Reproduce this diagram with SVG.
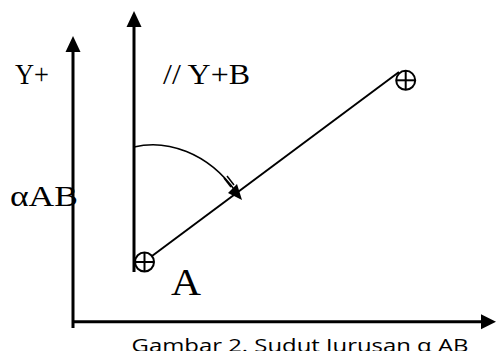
<svg xmlns="http://www.w3.org/2000/svg" width="496" height="351" viewBox="0 0 496 351">
<style>
.ax{stroke:#000;stroke-width:3;fill:none}
.ln{stroke:#000;stroke-width:2;fill:none}
.thin{stroke:#000;stroke-width:1.5;fill:none}
.serif{font-family:"Liberation Serif","Times New Roman",serif;fill:#000}
.sans{font-family:"Open Sans","Liberation Sans",sans-serif;fill:#000}
</style>
<rect width="496" height="351" fill="#fff"/>
<g id="connectors">
<line class="ax" x1="73" y1="48" x2="73" y2="328"/>
<polygon points="73,36 65.5,52 80.5,52"/>
<line class="ax" x1="73" y1="321.8" x2="484" y2="321.8"/>
<polygon points="496,321.8 481,314.3 481,329.3"/>
<line class="ax" x1="134" y1="24" x2="134" y2="272"/>
<polygon points="134,11 126.5,27 141.5,27"/>
<line class="ln" x1="152" y1="256" x2="399" y2="72"/>
<path class="thin" d="M134,147 C166,139 208,152 236,192"/>
<polygon points="242,200 228,193 237,184"/>
<line class="thin" x1="224" y1="178" x2="231" y2="187"/>
<line class="thin" x1="227" y1="176" x2="234" y2="185"/>
</g>
<g id="pointA">
<circle class="ln" cx="144.5" cy="262" r="9.5"/>
<line class="ln" x1="135" y1="262" x2="154" y2="262"/>
<line class="ln" x1="144.5" y1="252.5" x2="144.5" y2="271.5"/>
</g>
<g id="pointB">
<circle class="ln" cx="405.7" cy="80.3" r="9.5"/>
<line class="ln" x1="396.2" y1="80.3" x2="415.2" y2="80.3"/>
<line class="ln" x1="405.7" y1="70.8" x2="405.7" y2="89.8"/>
</g>
<g id="labels">
<text class="serif" x="15" y="84" font-size="29" textLength="34" lengthAdjust="spacingAndGlyphs">Y+</text>
<text class="serif" x="163" y="84" font-size="29" textLength="87" lengthAdjust="spacingAndGlyphs">// Y+B</text>
<text class="serif" x="10" y="206" font-size="29" textLength="68" lengthAdjust="spacingAndGlyphs">αAB</text>
<text class="serif" x="171" y="295" font-size="38" textLength="30" lengthAdjust="spacingAndGlyphs">A</text>
<text class="sans" x="131.5" y="352" font-size="19" textLength="337" lengthAdjust="spacingAndGlyphs">Gambar 2. Sudut Jurusan α AB</text>
</g>
</svg>
